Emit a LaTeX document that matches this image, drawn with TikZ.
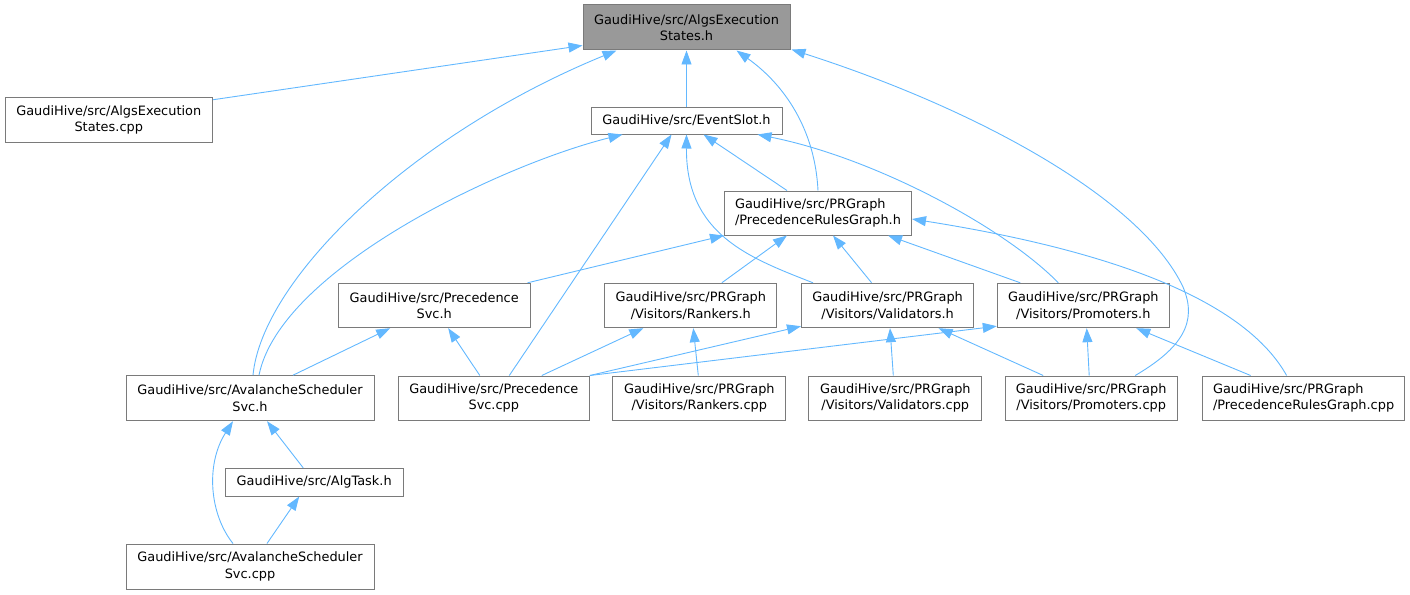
\documentclass[tikz,border=0pt]{standalone}
\usepackage{fontspec}
\setmainfont{DejaVu Sans}
\usetikzlibrary{arrows.meta,calc}
\definecolor{edgec}{HTML}{63B8FF}
\definecolor{boxc}{HTML}{7A7A7A}
\definecolor{mainfill}{HTML}{999999}
\begin{document}
\begin{tikzpicture}[x=1pt,y=-1pt,
  box/.style={draw=boxc, line width=1pt, fill=white, inner sep=0pt, align=center,
    font=\fontsize{12.9}{16.6}\selectfont, text=black},
  boxl/.style={box, align=left},
  mainbox/.style={box, fill=mainfill},
  edge/.style={draw=edgec, line width=0.9pt, -{Triangle[length=14pt,width=10pt]}}]
\useasboundingbox (0,0) rectangle (1410,594);

% nodes
\node[mainbox, minimum width=207pt, minimum height=45pt] (A) at (686.5,27.5) {GaudiHive/src/AlgsExecution\\States.h};
\node[box, minimum width=207.5pt, minimum height=45pt] (B) at (108.75,119.75) {GaudiHive/src/AlgsExecution\\States.cpp};
\node[box, minimum width=191pt, minimum height=27pt] (C) at (686.5,120.5) {GaudiHive/src/EventSlot.h};
\node[boxl, minimum width=187pt, minimum height=44pt] (D) at (818,213) {GaudiHive/src/PRGraph\\/PrecedenceRulesGraph.h};
\node[box, minimum width=191.7pt, minimum height=44.4pt] (E) at (434.2,305.5) {GaudiHive/src/Precedence\\Svc.h};
\node[box, minimum width=171.7pt, minimum height=44.4pt] (F) at (690.8,305.5) {GaudiHive/src/PRGraph\\/Visitors/Rankers.h};
\node[box, minimum width=172.2pt, minimum height=44.4pt] (G) at (887.6,305.5) {GaudiHive/src/PRGraph\\/Visitors/Validators.h};
\node[box, minimum width=172pt, minimum height=44.4pt] (H) at (1083.3,305.5) {GaudiHive/src/PRGraph\\/Visitors/Promoters.h};
\node[box, minimum width=248pt, minimum height=45pt] (I) at (250,398.2) {GaudiHive/src/AvalancheScheduler\\Svc.h};
\node[box, minimum width=191pt, minimum height=44pt] (J) at (493.8,398) {GaudiHive/src/Precedence\\Svc.cpp};
\node[box, minimum width=173.3pt, minimum height=44pt] (K) at (699.3,398) {GaudiHive/src/PRGraph\\/Visitors/Rankers.cpp};
\node[box, minimum width=172.7pt, minimum height=44pt] (L) at (895.3,398) {GaudiHive/src/PRGraph\\/Visitors/Validators.cpp};
\node[box, minimum width=172.3pt, minimum height=44pt] (M) at (1091.2,398) {GaudiHive/src/PRGraph\\/Visitors/Promoters.cpp};
\node[boxl, minimum width=202.7pt, minimum height=44pt] (N) at (1303.6,398) {GaudiHive/src/PRGraph\\/PrecedenceRulesGraph.cpp};
\node[box, minimum width=178.3pt, minimum height=27.7pt] (O) at (314.2,482.2) {GaudiHive/src/AlgTask.h};
\node[box, minimum width=248pt, minimum height=45pt] (P) at (250,566.5) {GaudiHive/src/AvalancheScheduler\\Svc.cpp};

% edges (tail -> head, head is the included file)
\draw[edge] ($(B.north east)+(0,3)$) -- ($(A.south west)+(0,-5)$);
\draw[edge] ($(I.north)+(3,0)$) .. controls (262,280) and (410,135) .. ($(A.south west)+(34,0)$);
\draw[edge] (C.north) -- (A.south);
\draw[edge] (D.north) .. controls (815,130) and (785,85) .. ($(A.south)+(50,0)$);
\draw[edge] ($(M.north)+(44,0)$) .. controls (1182,348) and (1198,322) .. (1183,287)
   .. controls (1142,200) and (980,110) .. ($(A.south east)+(1,-1)$);

\draw[edge] ($(I.north)+(9,0)$) .. controls (280,270) and (500,165) .. ($(C.south west)+(32,0)$);
\draw[edge] ($(J.north)+(15.5,0)$) -- ($(C.south)+(-15,0)$);
\draw[edge] ($(G.north west)+(12,0)$) .. controls (750,258) and (686,235) .. (C.south);
\draw[edge] ($(D.north)+(-31,0)$) -- ($(C.south)+(17,0)$);
\draw[edge] ($(H.north)+(-25,0)$) .. controls (1005,228) and (875,158) .. ($(C.south east)+(-25,0)$);

\draw[edge] ($(N.north)+(-17,0)$) .. controls (1250,310) and (1140,255) .. ($(D.east)+(0,6)$);
\draw[edge] ($(F.north)+(31,0)$) -- ($(D.south)+(-31,0)$);
\draw[edge] ($(G.north)+(-16,0)$) -- ($(D.south)+(15,0)$);
\draw[edge] ($(H.north)+(-63,0)$) -- ($(D.south)+(70,0)$);
\draw[edge] ($(E.north east)+(-3,0)$) -- (D.south west);

\draw[edge] ($(I.north)+(43,0)$) -- ($(E.south)+(-44,0)$);
\draw[edge] ($(J.north)+(-14,0)$) -- ($(E.south)+(14,0)$);

\draw[edge] ($(J.north)+(48,0)$) -- ($(F.south)+(-47.5,0)$);
\draw[edge] ($(K.north)+(-1,0)$) -- ($(F.south)+(2.5,0)$);

\draw[edge] (J.north east) -- ($(G.south west)+(0,-2)$);
\draw[edge] (J.north east) -- ($(H.south west)+(0,-2)$);

\draw[edge] ($(L.north)+(-2,0)$) -- ($(G.south)+(2.4,0)$);
\draw[edge] ($(M.north)+(-48,0)$) -- ($(G.south)+(51,0)$);
\draw[edge] ($(M.north)+(-2,0)$) -- ($(H.south)+(3.4,0)$);
\draw[edge] ($(N.north)+(-53,0)$) -- ($(H.south)+(53,0)$);

\draw[edge] ($(O.north)+(-11,0)$) -- ($(I.south)+(17,0)$);
\draw[edge] ($(P.north)+(-17,0)$) .. controls (210,515) and (205,465) .. ($(I.south)+(-17,0)$);
\draw[edge] ($(P.north)+(17,0)$) -- ($(O.south)+(-15,0)$);
\end{tikzpicture}
\end{document}
